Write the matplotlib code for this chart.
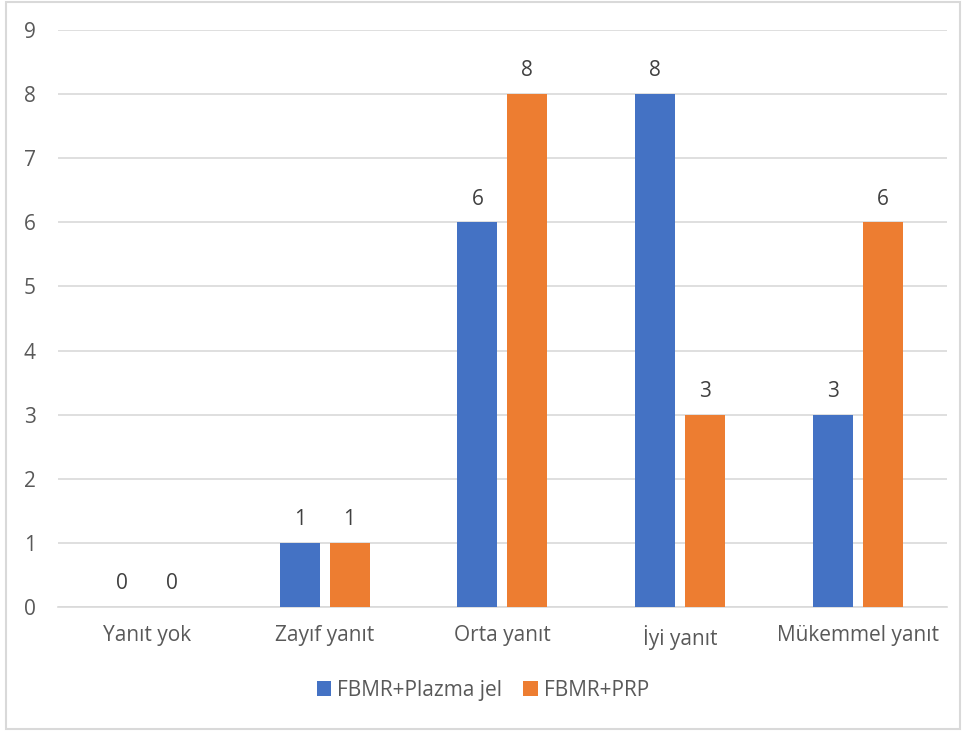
import matplotlib
matplotlib.use("Agg")
import matplotlib.pyplot as plt
import numpy as np
from matplotlib.patches import Rectangle

categories = ["Yanıt yok", "Zayıf yanıt", "Orta yanıt", "İyi yanıt", "Mükemmel yanıt"]
plazma = [0, 1, 6, 8, 3]
prp = [0, 1, 8, 3, 6]
series_names = ["FBMR+Plazma jel", "FBMR+PRP"]

plt.rcParams['font.family'] = ['Open Sans', 'DejaVu Sans']
fig = plt.figure(figsize=(9.66, 7.33), dpi=100)
ax = fig.add_axes([0.060, 0.172, 0.920, 0.787])

x = np.arange(len(categories))
w = 0.225
gap = 0.056
c1, c2 = "#4472C4", "#ED7D31"
b1 = ax.bar(x - (w + gap) / 2, plazma, w, color=c1, label=series_names[0], zorder=3)
b2 = ax.bar(x + (w + gap) / 2, prp, w, color=c2, label=series_names[1], zorder=3)

fs = 15
for bars in (b1, b2):
    for r in bars:
        h = r.get_height()
        ax.text(r.get_x() + r.get_width() / 2, h + 0.2, f"{int(h)}", ha="center", va="bottom",
                fontsize=fs, color="#404040")

ax.set_xlim(-0.5, 4.5)
ax.set_ylim(0, 9)
ax.set_yticks(range(10))
ax.yaxis.grid(True, color="#D9D9D9", linewidth=1.2, zorder=0)
for s in ["top", "right", "left"]:
    ax.spines[s].set_visible(False)
ax.spines["bottom"].set_color("#D9D9D9")
ax.spines["bottom"].set_linewidth(1.2)
ax.tick_params(axis="both", length=0, labelsize=fs, colors="#595959")
ax.tick_params(axis="y", pad=16)
ax.tick_params(axis="x", pad=13)
ax.set_xticks(x)
ax.set_xticklabels(categories)

leg = fig.legend(handles=[b1, b2], labels=series_names, loc="center", bbox_to_anchor=(0.5, 0.058),
                 ncol=2, frameon=False, fontsize=fs, handlelength=0.7, handleheight=0.7,
                 columnspacing=1.0, handletextpad=0.3)
for t in leg.get_texts():
    t.set_color("#595959")

fig.patches.append(Rectangle((0.006, 0.005), 0.988, 0.992, transform=fig.transFigure,
                             fill=False, edgecolor="#D9D9D9", linewidth=1.5))

fig.savefig("out.png", dpi=100)
